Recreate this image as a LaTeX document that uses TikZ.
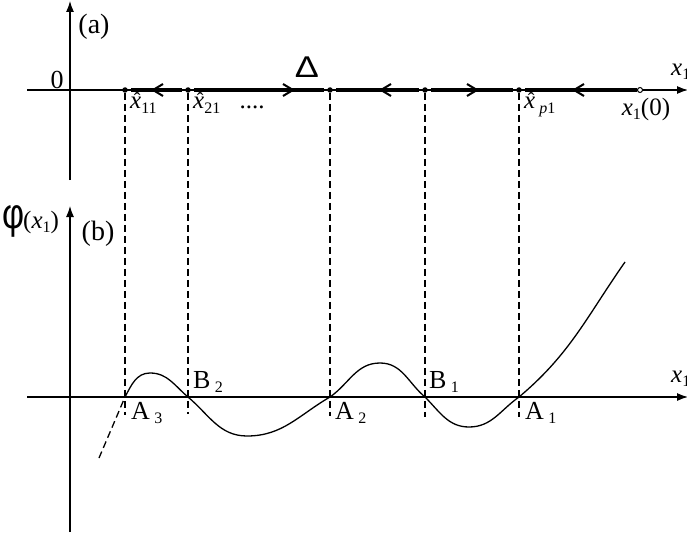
\documentclass[tikz,border=0pt]{standalone}
\usepackage{fontspec}
\setmainfont{Liberation Serif}
\newfontfamily\dejavu{DejaVu Sans}
\newfontfamily\lsans{Liberation Sans}
\usetikzlibrary{arrows.meta}
\newcommand\fs[1]{\fontsize{#1}{#1}\selectfont}
\newcommand\sub[1]{\raisebox{-0.35ex}{\fs{16}#1}}
\newcommand\xhat{{\ooalign{\textit{x}\cr\hidewidth\raisebox{0.08em}{\kern0.12em\fs{20}ˆ}\hidewidth\cr}}}
\begin{document}
\begin{tikzpicture}[x=1pt,y=-1pt,
  axis/.style={line width=1.2pt,-{Latex[length=11pt,width=8pt]}},
  dotn/.style={circle,fill=black,inner sep=0pt,minimum size=5.5pt},
  odotn/.style={circle,draw=black,fill=white,line width=1pt,inner sep=0pt,minimum size=5pt},
  boldseg/.style={line width=3.5pt,shorten <=3pt,shorten >=3pt},
  chev/.style={line width=2pt},
  dashline/.style={line width=1.2pt,dash pattern=on 7pt off 4pt},
  curve/.style={line width=1.3pt},
  lab/.style={inner sep=0pt,font=\fs{26}},
  plab/.style={inner sep=0pt,font=\fs{28}},
  xlab/.style={inner sep=0pt,font=\fs{25}},
]
\useasboundingbox (0,0) rectangle (687,532);

% ---------- (a) ----------
\coordinate (ta0) at (27,90);
\coordinate (ta1) at (688,90);
\coordinate (va0) at (70,180);
\coordinate (va1) at (70,1);
\draw[axis] (ta0) -- (ta1);
\draw[axis] (va0) -- (va1);

\node[dotn] (p1) at (125,90) {};
\node[dotn] (p2) at (188,90) {};
\node[dotn] (p3) at (330,90) {};
\node[dotn] (p4) at (425,90) {};
\node[dotn] (p5) at (519,90) {};
\node[odotn] (p0) at (640,90) {};

\draw[boldseg] (p1) -- (p2);
\draw[boldseg] (p2) -- (p3);
\draw[boldseg] (p3) -- (p4);
\draw[boldseg] (p4) -- (p5);
\draw[boldseg,shorten >=0pt] (p5) -- (p0);

% chevrons
\draw[chev] (163,84) -- (153,90) -- (163,96);
\draw[chev] (283,84) -- (293,90) -- (283,96);
\draw[chev] (391,84) -- (381,90) -- (391,96);
\draw[chev] (467,84) -- (477,90) -- (467,96);
\draw[chev] (584,84) -- (574,90) -- (584,96);

\node[plab] (la) at (94,27) {(a)};
\node[lab] (l0) at (57,80) {0};
\node[inner sep=0pt,font=\fs{30}\lsans,xscale=1.2] (delta) at (307,67) {Δ};
\node[xlab,anchor=west] (xa) at (671,72) {\textit{x}\sub{1}};

\node[xlab,anchor=base west] (h11) at (130,109) {\xhat\sub{11}};
\node[xlab,anchor=base west] (h21) at (193,109) {\xhat\sub{21}};
\node[xlab] (dots) at (252,107) {....};
\node[xlab,anchor=base west] (hp1) at (524,109) {\xhat\,\sub{\textit{p}1}};
\node[xlab,anchor=base] (x10) at (646,115) {\textit{x}\sub{1}(0)};

% dashed verticals
\coordinate (d1) at (125,415);
\coordinate (d2) at (188,414);
\coordinate (d3) at (330,416);
\coordinate (d4) at (425,417);
\coordinate (d5) at (519,417);
\draw[dashline] (p1) -- (d1);
\draw[dashline] (p2) -- (d2);
\draw[dashline] (p3) -- (d3);
\draw[dashline] (p4) -- (d4);
\draw[dashline] (p5) -- (d5);

% ---------- (b) ----------
\coordinate (tb0) at (27,397);
\coordinate (tb1) at (688,397);
\coordinate (vb0) at (70,532);
\coordinate (vb1) at (70,206);
\draw[axis] (tb0) -- (tb1);
\draw[axis] (vb0) -- (vb1);

\coordinate (A3) at (125,397);
\coordinate (M1) at (150,373);
\coordinate (B2) at (188,397);
\coordinate (N1) at (247,436);
\coordinate (A2) at (330,397);
\coordinate (M2) at (380,363);
\coordinate (B1) at (425,397);
\coordinate (N2) at (469,427);
\coordinate (A1) at (519,397);
\coordinate (E) at (625,262);
\coordinate (S) at (99,458);

\draw[curve,dash pattern=on 7pt off 4pt] (S) -- (A3);
\draw[curve] (A3) to[out=62,in=180] (M1)
  to[out=0,in=140] (B2)
  to[out=-40,in=180] (N1)
  to[out=0,in=210] (A2)
  to[out=35,in=180] (M2)
  to[out=0,in=140] (B1)
  to[out=-45,in=180] (N2)
  to[out=0,in=215] (A1)
  to[out=40,in=235] (E);

\node[lab,anchor=north west] (lA3) at (131,402) {A\,\sub{3}};
\node[lab,anchor=south west] (lB2) at (193,393) {B\,\sub{2}};
\node[lab,anchor=north west] (lA2) at (335,402) {A\,\sub{2}};
\node[lab,anchor=south west] (lB1) at (429,393) {B\,\sub{1}};
\node[lab,anchor=north west] (lA1) at (525,402) {A\,\sub{1}};
\node[xlab,anchor=west] (xb) at (671,379) {\textit{x}\sub{1}};

\node[inner sep=0pt,font=\fs{34}\lsans,yscale=1.25] (phi) at (14,221) {φ};
\node[inner sep=0pt,font=\fs{25},anchor=west] (phiarg) at (23,222) {(\textit{x}\sub{1})};
\node[plab] (lb) at (98,234) {(b)};
\end{tikzpicture}
\end{document}
